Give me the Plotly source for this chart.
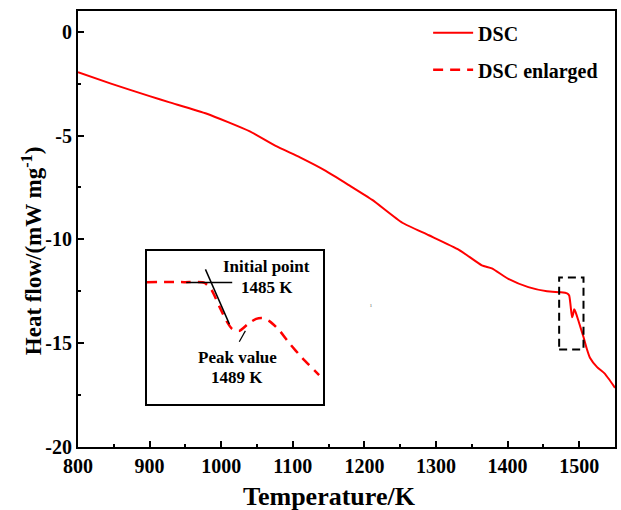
import plotly.graph_objects as go

# Main DSC curve
temp = [800, 846, 900, 928, 980, 1040, 1076, 1110, 1146, 1179, 1211, 1253, 1290, 1332,
        1364, 1378, 1401, 1429, 1455, 1474, 1483, 1486, 1488, 1490, 1491.5, 1493, 1495,
        1500, 1506, 1510, 1515, 1525, 1535, 1542, 1550]
heat = [-1.95, -2.5, -3.1, -3.4, -3.95, -4.8, -5.5, -6.05, -6.7, -7.4, -8.1, -9.2, -9.8, -10.5,
        -11.25, -11.4, -11.9, -12.3, -12.5, -12.55, -12.6, -12.7, -13.2, -13.75, -13.6, -13.37, -13.5,
        -14.04, -14.7, -15.2, -15.7, -16.15, -16.44, -16.75, -17.15]

# Enlarged DSC (inset)
temp_enl = [1471, 1479, 1483.3, 1484.8, 1486.5, 1488.0, 1489.2, 1490.7, 1492.8, 1494.3,
            1495.6, 1497.1, 1499.2, 1501.3, 1504.1, 1507.7]
heat_enl = [-12.59, -12.59, -12.61, -12.80, -13.25, -13.63, -13.84, -13.89, -13.68, -13.57,
            -13.55, -13.63, -13.87, -14.21, -14.61, -15.07]

# Tangent construction lines in the inset
tan_h_x = [1479.4, 1489.2]
tan_h_y = [-12.6, -12.6]
tan_s_x = [1483.5, 1488.6]
tan_s_y = [-12.25, -13.71]
ptr_x = [1490.7, 1492.0]
ptr_y = [-14.18, -13.89]

# Zoom box on the main plot
box_x = [1472, 1506]
box_y = [-15.3, -11.83]

x_ticks = [800, 900, 1000, 1100, 1200, 1300, 1400, 1500]
x_tick_text = ["800", "900", "1000", "1100", "1200", "1300", "1400", "1500"]
y_ticks = [0, -5, -10, -15, -20]
y_tick_text = ["0", "-5", "-10", "-15", "-20"]

FONT = "Liberation Serif, Times New Roman, serif"

fig = go.Figure()
fig.add_trace(go.Scatter(x=temp, y=heat, mode="lines", name="DSC",
                         line=dict(color="#ff0000", width=2, shape="spline", smoothing=0.5),
                         legend="legend"))
fig.add_trace(go.Scatter(x=temp_enl, y=heat_enl, mode="lines", name="DSC enlarged",
                         line=dict(color="#ff0000", width=2.5, dash="10px,7px", shape="spline", smoothing=0.6),
                         xaxis="x2", yaxis="y2", legend="legend2"))
for lx, ly, w in [(tan_h_x, tan_h_y, 1.5), (tan_s_x, tan_s_y, 1.5), (ptr_x, ptr_y, 1.2)]:
    fig.add_trace(go.Scatter(x=lx, y=ly, mode="lines", line=dict(color="black", width=w),
                             xaxis="x2", yaxis="y2", showlegend=False, hoverinfo="skip"))

fig.add_shape(type="rect", xref="x", yref="y", x0=box_x[0], x1=box_x[1], y0=box_y[0], y1=box_y[1],
              line=dict(color="black", width=2, dash="8px,5px"))

ann_font = dict(family=FONT, size=17, color="black", weight="bold")
for txt, xx, yy in [("Initial point", 1496.6, -12.16), ("1485 K", 1496.6, -12.72),
                    ("Peak value", 1490.3, -14.59), ("1489 K", 1490.3, -15.12)]:
    fig.add_annotation(text=txt, x=xx, y=yy, xref="x2", yref="y2", showarrow=False, font=ann_font)

# axis titles
fig.add_annotation(text="Temperature/K", x=0.4675, y=-0.114, xref="paper", yref="paper",
                   showarrow=False, xanchor="center", yanchor="middle",
                   font=dict(family=FONT, size=26, color="black", weight="bold"))
fig.add_annotation(text="Heat flow/(mW mg<sup>-1</sup>)", x=-0.085, y=0.45, xref="paper", yref="paper",
                   showarrow=False, xanchor="center", yanchor="middle", textangle=-90,
                   font=dict(family=FONT, size=23, color="black", weight="bold"))

fig.add_annotation(text="ı", x=0.545, y=0.312, xref="paper", yref="paper", showarrow=False,
                   font=dict(size=7, color="#888888"))

axis_common = dict(showgrid=False, zeroline=False, showline=True, linecolor="black", linewidth=2,
                   mirror=True, ticks="inside", ticklen=6, tickwidth=2, tickcolor="black",
                   tickfont=dict(family=FONT, size=20, color="black", weight="bold"))

legend_font = dict(family=FONT, size=20, color="black", weight="bold")

fig.update_layout(
    width=621, height=510,
    margin=dict(l=78, r=4, t=11, b=63),
    paper_bgcolor="white", plot_bgcolor="white",
    font=dict(family=FONT, color="black"),
    xaxis=dict(range=[800, 1550], tickvals=x_ticks, ticktext=x_tick_text,
               minor=dict(dtick=50, ticks="inside", ticklen=3, tickwidth=2, tickcolor="black"),
               **axis_common),
    yaxis=dict(range=[-20, 1], tickvals=y_ticks, ticktext=y_tick_text,
               minor=dict(dtick=2.5, ticks="inside", ticklen=3, tickwidth=2, tickcolor="black"),
               **axis_common),
    xaxis2=dict(domain=[0.128, 0.456], anchor="y2", range=[1471, 1508.5], showgrid=False, zeroline=False,
                showline=True, mirror=True, linecolor="black", linewidth=2, ticks="", showticklabels=False),
    yaxis2=dict(domain=[0.0986, 0.4495], anchor="x2", range=[-15.84, -11.76], showgrid=False, zeroline=False,
                showline=True, mirror=True, linecolor="black", linewidth=2, ticks="", showticklabels=False),
    legend=dict(x=0.652, y=0.95, xanchor="left", yanchor="middle", bgcolor="rgba(0,0,0,0)",
                font=legend_font, itemwidth=40),
    legend2=dict(x=0.652, y=0.865, xanchor="left", yanchor="middle", bgcolor="rgba(0,0,0,0)",
                 font=legend_font, itemwidth=40),
    showlegend=True,
)

fig.write_html("out.html", config={"displayModeBar": False},
               post_script="document.body.style.margin='0';")
